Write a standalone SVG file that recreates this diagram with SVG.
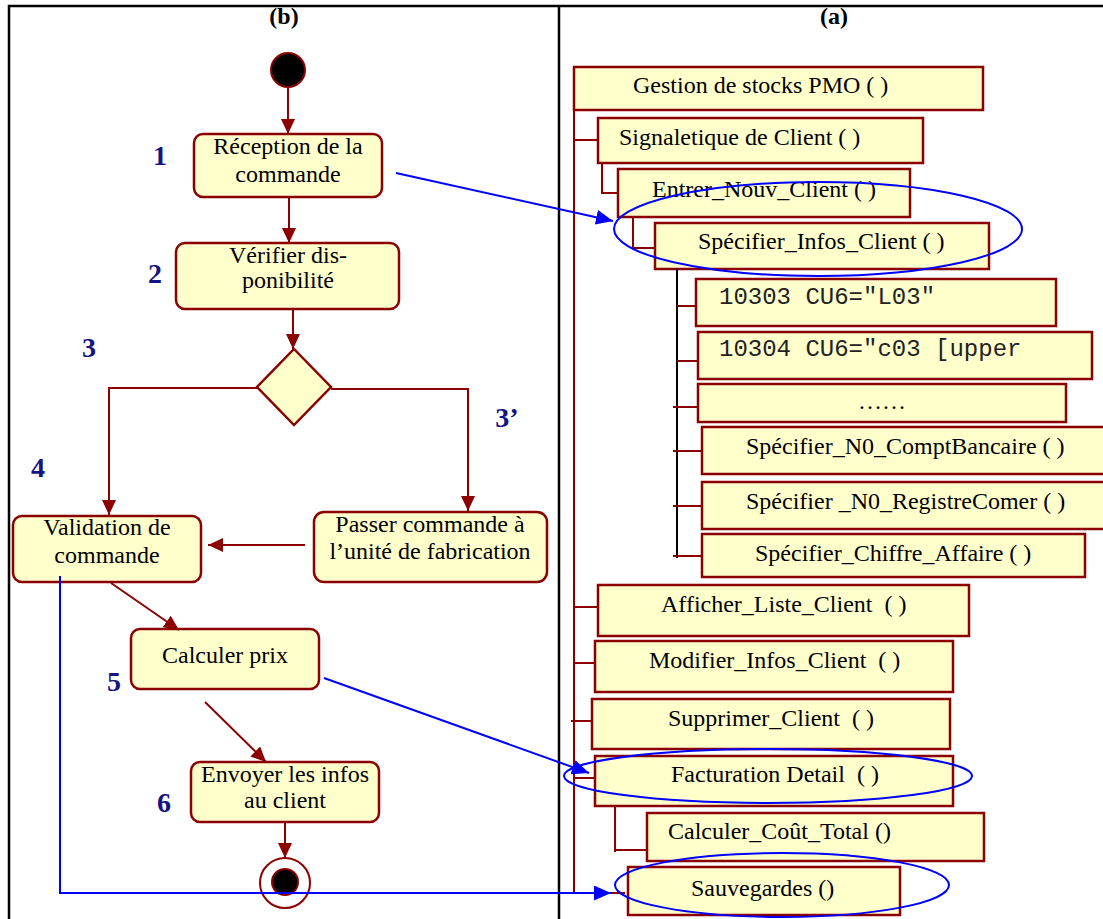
<svg xmlns="http://www.w3.org/2000/svg" width="1103" height="919" viewBox="0 0 1103 919">
  <style>
    .frame { stroke: #000; stroke-width: 2.5; fill: none; }
    .act { fill: #FFFFCC; stroke: #8B0000; stroke-width: 2.5; }
    .box { fill: #FFFFCC; stroke: #8B0000; stroke-width: 2.5; }
    .flow { stroke: #8B0000; stroke-width: 2; fill: none; }
    .tree { stroke: #8B0000; stroke-width: 2; fill: none; }
    .trunk { stroke: #000; stroke-width: 2; fill: none; }
    .link { stroke: #0000FF; stroke-width: 2; fill: none; }
    .ring { stroke: #0000FF; stroke-width: 2; fill: none; }
    .t { font-family: "Liberation Serif", "Times New Roman", serif; font-size: 24px; fill: #000; }
    .c { text-anchor: middle; }
    .mono { font-family: "Liberation Mono", "Courier New", monospace; font-size: 24px; fill: #222; }
    .step { font-family: "Liberation Serif", "Times New Roman", serif; font-size: 28px; font-weight: bold; fill: #141482; text-anchor: middle; }
    .head { font-family: "Liberation Serif", "Times New Roman", serif; font-size: 24px; font-weight: bold; fill: #000; text-anchor: middle; }
  </style>
  <defs>
    <marker id="arrRed" markerUnits="userSpaceOnUse" markerWidth="15" markerHeight="14" refX="15" refY="7" orient="auto">
      <path d="M0,0 L15,7 L0,14 z" fill="#8B0000"/>
    </marker>
    <marker id="arrBlue" markerUnits="userSpaceOnUse" markerWidth="17" markerHeight="15" refX="17" refY="7.5" orient="auto">
      <path d="M0,0 L17,7.5 L0,15 z" fill="#0000FF"/>
    </marker>
  </defs>

  <!-- page frame and column divider -->
  <g id="frame">
    <path class="frame" d="M9,919 L9,6 L1103,6"/>
    <line class="frame" x1="559" y1="6" x2="559" y2="919"/>
    <text class="head" x="284" y="24">(b)</text>
    <text class="head" x="834" y="24">(a)</text>
  </g>

  <!-- activity diagram (b) -->
  <g id="start">
    <circle cx="288" cy="70" r="17" fill="#000" stroke="#8B0000" stroke-width="2"/>
  </g>
  <g id="reception">
    <rect class="act" x="194" y="134" width="188" height="63" rx="9"/>
    <text class="t c" x="288" y="154">Réception de la</text>
    <text class="t c" x="288" y="182">commande</text>
  </g>
  <g id="verifier">
    <rect class="act" x="176" y="243" width="223" height="66" rx="9"/>
    <text class="t c" x="288" y="263">Vérifier dis-</text>
    <text class="t c" x="288" y="288">ponibilité</text>
  </g>
  <g id="decision">
    <polygon class="act" points="294,349 331,387 294,425 257,387"/>
  </g>
  <g id="validation">
    <rect class="act" x="13" y="516" width="188" height="66" rx="9"/>
    <text class="t c" x="107" y="535">Validation de</text>
    <text class="t c" x="107" y="563">commande</text>
  </g>
  <g id="passer">
    <rect class="act" x="314" y="512" width="233" height="70" rx="10"/>
    <text class="t c" x="430" y="532">Passer commande à</text>
    <text class="t c" x="430" y="559">l’unité de fabrication</text>
  </g>
  <g id="calculer">
    <rect class="act" x="131" y="629" width="188" height="60" rx="9"/>
    <text class="t c" x="225" y="663">Calculer prix</text>
  </g>
  <g id="envoyer">
    <rect class="act" x="191" y="762" width="188" height="60" rx="9"/>
    <text class="t c" x="285" y="782">Envoyer les infos</text>
    <text class="t c" x="285" y="808">au client</text>
  </g>
  <g id="end">
    <circle cx="285" cy="883" r="25" fill="none" stroke="#8B0000" stroke-width="2"/>
    <circle cx="285" cy="882" r="13" fill="#000" stroke="#8B0000" stroke-width="2"/>
  </g>

  <!-- step numbers -->
  <g id="steps">
    <text class="step" x="160" y="165">1</text>
    <text class="step" x="155" y="283">2</text>
    <text class="step" x="89" y="357">3</text>
    <text class="step" x="507" y="427">3’</text>
    <text class="step" x="38" y="477">4</text>
    <text class="step" x="114" y="691">5</text>
    <text class="step" x="164" y="812">6</text>
  </g>

  <!-- function tree (a) -->
  <g id="gestion">
    <rect class="box" x="574" y="67" width="409" height="43"/>
    <text class="t" x="633" y="93">Gestion de stocks PMO ( )</text>
  </g>
  <g id="signaletique">
    <rect class="box" x="598" y="118" width="325" height="45"/>
    <text class="t" x="619" y="145">Signaletique de Client ( )</text>
  </g>
  <g id="entrer">
    <rect class="box" x="618" y="169" width="292" height="48"/>
    <text class="t" x="652" y="197">Entrer_Nouv_Client ( )</text>
  </g>
  <g id="specifier-infos">
    <rect class="box" x="655" y="223" width="334" height="46"/>
    <text class="t" x="698" y="249">Spécifier_Infos_Client ( )</text>
  </g>
  <g id="cu6-l03">
    <rect class="box" x="696" y="279" width="360" height="47"/>
    <text class="mono" x="719" y="304">10303 CU6="L03"</text>
  </g>
  <g id="cu6-c03">
    <rect class="box" x="698" y="332" width="394" height="47"/>
    <text class="mono" x="719" y="356">10304 CU6="c03 [upper</text>
  </g>
  <g id="ellipsis">
    <rect class="box" x="698" y="384" width="368" height="38"/>
    <text class="t c" x="882" y="409">……</text>
  </g>
  <g id="compt-bancaire">
    <rect class="box" x="702" y="427" width="410" height="47"/>
    <text class="t" x="746" y="454">Spécifier_N0_ComptBancaire ( )</text>
  </g>
  <g id="registre-comer">
    <rect class="box" x="702" y="482" width="410" height="47"/>
    <text class="t" x="746" y="509">Spécifier _N0_RegistreComer ( )</text>
  </g>
  <g id="chiffre-affaire">
    <rect class="box" x="702" y="534" width="383" height="43"/>
    <text class="t" x="755" y="561">Spécifier_Chiffre_Affaire ( )</text>
  </g>
  <g id="afficher">
    <rect class="box" x="598" y="585" width="371" height="51"/>
    <text class="t" x="661" y="612">Afficher_Liste_Client&#160; ( )</text>
  </g>
  <g id="modifier">
    <rect class="box" x="595" y="641" width="358" height="51"/>
    <text class="t" x="649" y="668">Modifier_Infos_Client&#160; ( )</text>
  </g>
  <g id="supprimer">
    <rect class="box" x="592" y="699" width="358" height="50"/>
    <text class="t" x="668" y="726">Supprimer_Client&#160; ( )</text>
  </g>
  <g id="facturation">
    <rect class="box" x="595" y="756" width="358" height="50"/>
    <text class="t" x="671" y="782">Facturation Detail&#160; ( )</text>
  </g>
  <g id="cout-total">
    <rect class="box" x="647" y="813" width="337" height="48"/>
    <text class="t" x="668" y="839">Calculer_Coût_Total ()</text>
  </g>
  <g id="sauvegardes">
    <rect class="box" x="628" y="867" width="272" height="48"/>
    <text class="t" x="691" y="896">Sauvegardes ()</text>
  </g>

  <!-- connectors -->
  <g id="connectors">
    <!-- control flow of the activity diagram -->
    <line class="flow" x1="288" y1="87" x2="288" y2="134" marker-end="url(#arrRed)"/>
    <line class="flow" x1="289" y1="197" x2="289" y2="243" marker-end="url(#arrRed)"/>
    <line class="flow" x1="293" y1="309" x2="293" y2="349" marker-end="url(#arrRed)"/>
    <polyline class="flow" points="257,388 109,388 109,515" marker-end="url(#arrRed)"/>
    <polyline class="flow" points="331,389 468,389 468,511" marker-end="url(#arrRed)"/>
    <line class="flow" x1="305" y1="545" x2="208" y2="545" marker-end="url(#arrRed)"/>
    <line class="flow" x1="111" y1="583" x2="179" y2="630" marker-end="url(#arrRed)"/>
    <line class="flow" x1="205" y1="702" x2="266" y2="762" marker-end="url(#arrRed)"/>
    <line class="flow" x1="285" y1="822" x2="285" y2="858" marker-end="url(#arrRed)"/>

    <!-- tree branches -->
    <line class="tree" x1="574" y1="110" x2="574" y2="893"/>
    <line class="tree" x1="574" y1="140" x2="598" y2="140"/>
    <polyline class="tree" points="602,163 602,193 618,193"/>
    <polyline class="tree" points="633,217 633,248 655,248"/>
    <line class="trunk" x1="677" y1="269" x2="677" y2="558"/>
    <line class="tree" x1="677" y1="306" x2="696" y2="306"/>
    <line class="tree" x1="677" y1="361" x2="698" y2="361"/>
    <line class="tree" x1="673" y1="407" x2="698" y2="407"/>
    <line class="tree" x1="673" y1="451" x2="702" y2="451"/>
    <line class="tree" x1="673" y1="506" x2="702" y2="506"/>
    <line class="tree" x1="673" y1="556" x2="702" y2="556"/>
    <line class="tree" x1="574" y1="607" x2="598" y2="607"/>
    <line class="tree" x1="574" y1="663" x2="595" y2="663"/>
    <line class="tree" x1="571" y1="721" x2="592" y2="721"/>
    <line class="tree" x1="574" y1="778" x2="595" y2="778"/>
    <polyline class="tree" points="615,805 615,852 615,850 647,850"/>
    <line class="tree" x1="574" y1="893" x2="625" y2="893"/>

    <!-- mapping links between activities and functions -->
    <line class="link" x1="396" y1="173" x2="613" y2="221" marker-end="url(#arrBlue)"/>
    <line class="link" x1="324" y1="678" x2="589" y2="773" marker-end="url(#arrBlue)"/>
    <polyline class="link" points="60,576 60,893 611,893" marker-end="url(#arrBlue)"/>
    <ellipse class="ring" cx="818" cy="229" rx="204" ry="47"/>
    <ellipse class="ring" cx="768" cy="776" rx="204" ry="27"/>
    <ellipse class="ring" cx="782" cy="885" rx="167" ry="32"/>
  </g>
</svg>
